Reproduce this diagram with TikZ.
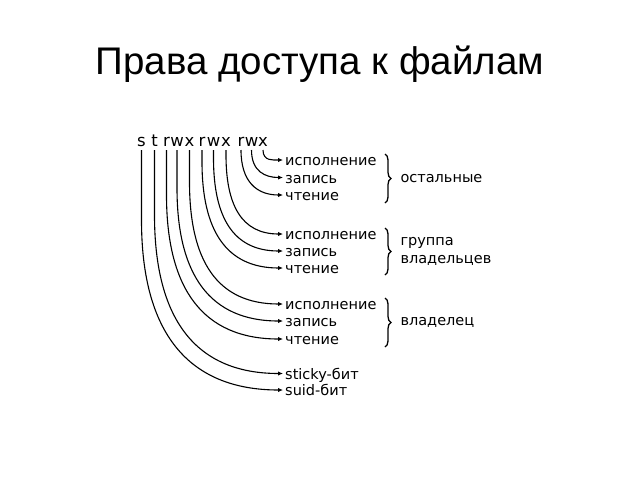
\documentclass[tikz,border=0pt]{standalone}
\usepackage{fontspec}
\usetikzlibrary{arrows.meta,decorations.pathreplacing}
\newfontfamily\titlefont{Liberation Sans}
\newfontfamily\permfont{DejaVu Sans}

\begin{document}
\begin{tikzpicture}[x=1pt,y=1pt,
    bit/.style={font=\permfont\fontsize{16.5}{19}\selectfont, anchor=base, inner sep=0pt, outer ysep=4pt},
    perm/.style={font=\permfont\fontsize{14.5}{17}\selectfont, anchor=west, inner xsep=2pt, inner ysep=0pt, text height=11pt, text depth=0pt},
    owner/.style={font=\permfont\fontsize{14.5}{18}\selectfont, anchor=west, align=left},
    wire/.style={line width=1.1pt, -{Latex[length=5pt,width=4.5pt]}},
    curly/.style={line width=1.3pt, decorate, decoration={brace, amplitude=6pt}}]
    \useasboundingbox (0,0) rectangle (640,-480);

    \node[font=\titlefont\fontsize{38.5}{46}\selectfont, anchor=base] (title) at (320,-74) {Права доступа к файлам};

    % permission letters
    \foreach \name/\txt/\x in {s/s/141.5, t/t/154.5, ur/r/166.5, uw/w/177, ux/x/189.5, gr/r/202, gw/w/213.5, gx/x/226, or/r/241, ow/w/251.5, ox/x/263}
      \node[bit] (\name) at (\x,-146) {\txt};

    % what each letter means
    \foreach \name/\txt/\y in {lox/исполнение/160, low/запись/177.5, lor/чтение/195, lgx/исполнение/234, lgw/запись/251, lgr/чтение/268, lux/исполнение/304, luw/запись/321, lur/чтение/339, lt/sticky-бит/373.5, ls/suid-бит/390}
      \node[perm] (\name) at (283,-\y) {\txt};

    \foreach \a/\h in {s/70, t/65, ur/45, uw/38, ux/32, gr/12, gw/8, gx/5, or/0, ow/0, ox/0}
      \draw[wire] (\a.south) -- ++(0,-\h) to[out=-90,in=180,out looseness=1.3,in looseness=1.1] (l\a.west);

    % braces
    \coordinate (otop) at (385,-154);
    \coordinate (obot) at (385,-203);
    \coordinate (gtop) at (385,-228);
    \coordinate (gbot) at (385,-275);
    \coordinate (utop) at (385,-298);
    \coordinate (ubot) at (385,-347);
    \draw[curly] (otop) -- (obot);
    \draw[curly] (gtop) -- (gbot);
    \draw[curly] (utop) -- (ubot);

    \node[owner] (others) at (397,-178.5) {остальные};
    \node[owner] (group) at (397,-251) {группа\\владельцев};
    \node[owner] (user) at (397,-322.5) {владелец};
\end{tikzpicture}
\end{document}
